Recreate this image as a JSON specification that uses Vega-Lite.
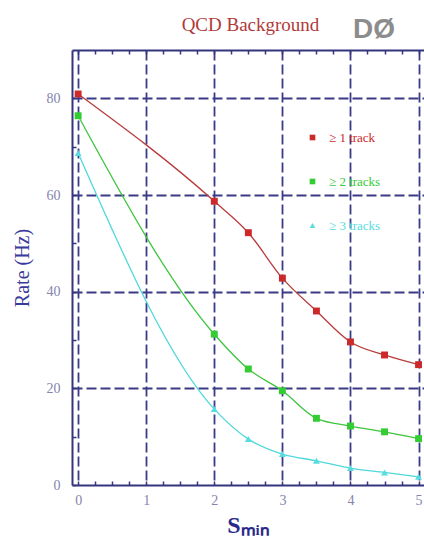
{
  "$schema": "https://vega.github.io/schema/vega-lite/v6.json",
  "width": 352,
  "height": 435,
  "autosize": {"type": "none"},
  "padding": {"left": 72, "top": 50, "right": 0, "bottom": 51},
  "background": "white",
  "title": {
    "text": "DØ",
    "anchor": "end",
    "frame": "group",
    "dx": -29,
    "offset": -51,
    "baseline": "alphabetic",
    "font": "Liberation Sans",
    "fontSize": 28,
    "fontWeight": "bold",
    "color": "#8c8c8c"
  },
  "config": {
    "view": {"stroke": null},
    "axis": {
      "domainColor": "#34347f",
      "domainWidth": 2,
      "tickColor": "#34347f",
      "tickWidth": 1.5,
      "gridColor": "#3a3a88",
      "gridWidth": 1.8,
      "gridDash": [10, 4],
      "labelFont": "Liberation Serif",
      "labelFontSize": 14,
      "labelColor": "#8484ac",
      "titleFont": "Liberation Serif"
    },
    "legend": {
      "orient": "none",
      "legendX": 234,
      "legendY": 81,
      "title": null,
      "padding": 0,
      "rowPadding": 30,
      "labelFont": "Liberation Serif",
      "labelFontSize": 13,
      "labelOffset": 10,
      "symbolSize": 32,
      "symbolStrokeWidth": 0
    }
  },
  "data": {
    "values": [
      {"series": "≥ 1 track", "smin": 0, "rate": 80.9},
      {"series": "≥ 1 track", "smin": 2, "rate": 58.7},
      {"series": "≥ 1 track", "smin": 2.5, "rate": 52.2},
      {"series": "≥ 1 track", "smin": 3, "rate": 42.8},
      {"series": "≥ 1 track", "smin": 3.5, "rate": 36.0},
      {"series": "≥ 1 track", "smin": 4, "rate": 29.6},
      {"series": "≥ 1 track", "smin": 4.5, "rate": 26.9},
      {"series": "≥ 1 track", "smin": 5, "rate": 24.9},
      {"series": "≥ 2 tracks", "smin": 0, "rate": 76.4},
      {"series": "≥ 2 tracks", "smin": 2, "rate": 31.2},
      {"series": "≥ 2 tracks", "smin": 2.5, "rate": 24.0},
      {"series": "≥ 2 tracks", "smin": 3, "rate": 19.5},
      {"series": "≥ 2 tracks", "smin": 3.5, "rate": 13.8},
      {"series": "≥ 2 tracks", "smin": 4, "rate": 12.2},
      {"series": "≥ 2 tracks", "smin": 4.5, "rate": 11.0},
      {"series": "≥ 2 tracks", "smin": 5, "rate": 9.6},
      {"series": "≥ 3 tracks", "smin": 0, "rate": 68.7},
      {"series": "≥ 3 tracks", "smin": 2, "rate": 15.7},
      {"series": "≥ 3 tracks", "smin": 2.5, "rate": 9.5},
      {"series": "≥ 3 tracks", "smin": 3, "rate": 6.4},
      {"series": "≥ 3 tracks", "smin": 3.5, "rate": 5.0},
      {"series": "≥ 3 tracks", "smin": 4, "rate": 3.5},
      {"series": "≥ 3 tracks", "smin": 4.5, "rate": 2.6},
      {"series": "≥ 3 tracks", "smin": 5, "rate": 1.7}
    ]
  },
  "encoding": {
    "y": {
      "field": "rate",
      "type": "quantitative",
      "scale": {"domain": [0, 90], "nice": false, "zero": false},
      "axis": {
        "orient": "left",
        "values": [0, 10, 20, 30, 40, 50, 60, 70, 80],
        "labelExpr": "datum.value % 20 === 0 ? format(datum.value, 'd') : ''",
        "gridOpacity": {"condition": {"test": "datum.value % 20 === 0 && datum.value > 0", "value": 1}, "value": 0},
        "tickSize": -4,
        "labelPadding": 16,
        "title": "Rate (Hz)",
        "titleColor": "#3a3a9c",
        "titleFontSize": 20,
        "titleFontWeight": "normal",
        "titlePadding": 14
      }
    }
  },
  "layer": [
    {
      "mark": {"type": "line", "interpolate": "monotone", "strokeWidth": 1.3},
      "encoding": {
        "x": {
          "field": "smin",
          "type": "quantitative",
          "scale": {"domain": [-0.09, 5.08], "nice": false, "zero": false},
          "axis": {
            "orient": "bottom",
            "values": [0, 0.25, 0.5, 0.75, 1, 1.25, 1.5, 1.75, 2, 2.25, 2.5, 2.75, 3, 3.25, 3.5, 3.75, 4, 4.25, 4.5, 4.75, 5],
            "labelExpr": "datum.value % 1 === 0 ? format(datum.value, 'd') : ''",
            "gridOpacity": {"condition": {"test": "datum.value % 1 === 0", "value": 1}, "value": 0},
            "tickSize": -4,
            "labelPadding": 12,
            "title": "Sₘᵢₙ",
            "titleColor": "#2a2a8a",
            "titleFontSize": 24,
            "titleFontWeight": "bold",
            "titlePadding": 6
          }
        },
        "stroke": {
          "field": "series",
          "type": "nominal",
          "scale": {"domain": ["≥ 1 track", "≥ 2 tracks", "≥ 3 tracks"], "range": ["#b83c3c", "#3ec43e", "#4fd8dc"]},
          "legend": {
            "encode": {
              "labels": {"update": {"fill": {"scale": "color", "field": "value"}}},
              "symbols": {"update": {"fill": {"scale": "color", "field": "value"}, "shape": {"scale": "shape", "field": "value"}, "strokeWidth": {"value": 0}}}
            }
          }
        }
      }
    },
    {
      "mark": {"type": "point", "filled": true, "size": 48, "opacity": 1},
      "encoding": {
        "x": {
          "field": "smin",
          "type": "quantitative",
          "axis": {
            "orient": "top",
            "values": [0, 0.25, 0.5, 0.75, 1, 1.25, 1.5, 1.75, 2, 2.25, 2.5, 2.75, 3, 3.25, 3.5, 3.75, 4, 4.25, 4.5, 4.75, 5],
            "labels": false,
            "grid": false,
            "tickSize": -4,
            "title": "QCD Background",
            "titleX": 178,
            "titleY": -20,
            "titleAlign": "center",
            "titleBaseline": "alphabetic",
            "titleColor": "#b03a3a",
            "titleFontSize": 19,
            "titleFontWeight": "normal"
          }
        },
        "color": {
          "field": "series",
          "type": "nominal",
          "scale": {"domain": ["≥ 1 track", "≥ 2 tracks", "≥ 3 tracks"], "range": ["#cc2a2a", "#33cc33", "#55dde0"]},
          "legend": {
            "encode": {
              "labels": {"update": {"fill": {"scale": "color", "field": "value"}}},
              "symbols": {"update": {"fill": {"scale": "color", "field": "value"}, "shape": {"scale": "shape", "field": "value"}, "strokeWidth": {"value": 0}}}
            }
          }
        },
        "shape": {
          "field": "series",
          "type": "nominal",
          "scale": {"domain": ["≥ 1 track", "≥ 2 tracks", "≥ 3 tracks"], "range": ["square", "square", "triangle-up"]},
          "legend": {
            "encode": {
              "labels": {"update": {"fill": {"scale": "color", "field": "value"}}},
              "symbols": {"update": {"fill": {"scale": "color", "field": "value"}, "shape": {"scale": "shape", "field": "value"}, "strokeWidth": {"value": 0}}}
            }
          }
        }
      }
    }
  ],
  "resolve": {"axis": {"x": "independent"}}
}
